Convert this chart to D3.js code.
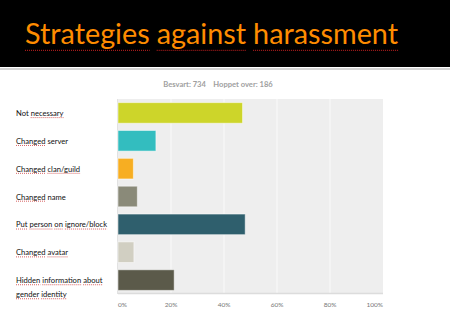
<!DOCTYPE html>
<html>
<head>
<meta charset="utf-8">
<script src="https://cdn.jsdelivr.net/npm/d3@7"></script>
<style>
  body { margin: 0; background: #fff; }
  svg { display: block; }
</style>
</head>
<body>
<script>
// chart data
var categories = [
    "Not necessary",
    "Changed server",
    "Changed clan/guild",
    "Changed name",
    "Put person on ignore/block",
    "Changed avatar",
    "Hidden information about gender identity"
];
var values = [47, 14.3, 5.8, 7.3, 48, 6, 21.2];
var colors = ["#cdd52a", "#33bdbf", "#f7ae22", "#8a8a79", "#2f5f6d", "#d1cfc2", "#5b5a4a"];
// words flagged by the spell checker (red dotted underline)
var flagged = ["necessary", "Changed", "clan/guild", "Put", "person", "on", "ignore/block",
    "avatar", "Hidden", "information", "about", "gender", "identity"];
var ticks = [0, 20, 40, 60, 80, 100];
var titleText = "Strategies against harassment";
var summary = "Besvart: 734    Hoppet over: 186";

var width = 450, height = 333;

var svg = d3.select("body").append("svg")
    .attr("width", width)
    .attr("height", height);

// black header band + grey rule under it
svg.append("rect").attr("width", width).attr("height", 67).attr("fill", "#000");
svg.append("rect").attr("y", 68).attr("width", width).attr("height", 2).attr("fill", "#d4d4d4");

// draws words one by one so the flagged ones can get their dotted underline
function wordRow(g, words, x, y, size, fill, weight, gap) {
    var cx = x;
    words.forEach(function(w) {
        var t = g.append("text")
            .attr("x", cx).attr("y", y)
            .attr("font-size", size)
            .attr("font-weight", weight)
            .attr("fill", fill)
            .text(w);
        var wl = t.node().getComputedTextLength();
        if (flagged.indexOf(w) >= 0) {
            g.append("line")
                .attr("x1", cx).attr("x2", cx + wl)
                .attr("y1", y + size * 0.22).attr("y2", y + size * 0.22)
                .attr("stroke", "#c42020")
                .attr("stroke-width", size > 20 ? 1 : 0.7)
                .attr("stroke-dasharray", "1,1");
        }
        cx += wl + gap;
    });
}

var titleG = svg.append("g").attr("font-family", "Lato, sans-serif");
flagged.push("Strategies", "against", "harassment");
wordRow(titleG, titleText.split(" "), 25, 44, 28.8, "#ff8c00", "normal", 7);

// plot area
var x = d3.scaleLinear().domain([0, 100]).range([118, 383]);
var y = d3.scaleBand().domain(categories).range([99, 294])
    .paddingInner(0.26).paddingOuter(0.13);

svg.append("rect")
    .attr("x", x(0)).attr("y", 99)
    .attr("width", x(100) - x(0)).attr("height", 195)
    .attr("fill", "#eeeeee");

svg.selectAll(".grid")
    .data(ticks.slice(1, -1))
    .enter().append("line")
    .attr("class", "grid")
    .attr("x1", function(d) { return x(d); })
    .attr("x2", function(d) { return x(d); })
    .attr("y1", 99).attr("y2", 294)
    .attr("stroke", "#fafafa").attr("stroke-width", 1);

svg.append("line")
    .attr("x1", x(0)).attr("x2", x(100))
    .attr("y1", 293.5).attr("y2", 293.5)
    .attr("stroke", "#dcdcdc").attr("stroke-width", 1.5);
svg.append("line")
    .attr("x1", x(0) - 0.5).attr("x2", x(0) - 0.5)
    .attr("y1", 99).attr("y2", 294)
    .attr("stroke", "#e2e2e2");

svg.selectAll(".bar")
    .data(values)
    .enter().append("rect")
    .attr("class", "bar")
    .attr("x", x(0))
    .attr("y", function(d, i) { return y(categories[i]); })
    .attr("width", function(d) { return x(d) - x(0); })
    .attr("height", y.bandwidth())
    .attr("fill", function(d, i) { return colors[i]; })
    .attr("stroke", "#ffffff")
    .attr("stroke-opacity", 0.5)
    .attr("stroke-width", 1);

// category labels, wrapped like the survey export
var labG = svg.append("g").attr("font-family", "Lato, sans-serif");
categories.forEach(function(c) {
    var lines = c.length > 30 ? ["Hidden information about", "gender identity"] : [c];
    var cy = y(c) + y.bandwidth() / 2;
    lines.forEach(function(l, k) {
        wordRow(labG, l.split(" "), 16, cy + 3 + k * 14, 7.6, "#111", "normal", 2);
    });
});

// x axis tick labels
svg.selectAll(".tick")
    .data(ticks)
    .enter().append("text")
    .attr("class", "tick")
    .attr("x", function(d) { return x(d); })
    .attr("y", 307)
    .attr("text-anchor", function(d) { return d === 0 ? "start" : d === 100 ? "end" : "middle"; })
    .attr("font-family", "Lato, sans-serif")
    .attr("font-size", 6.5)
    .attr("fill", "#777")
    .text(function(d) { return d + "%"; });

svg.append("text")
    .attr("x", 218).attr("y", 87)
    .attr("text-anchor", "middle")
    .attr("font-family", "Lato, sans-serif")
    .attr("font-size", 7.6)
    .attr("font-weight", "bold")
    .attr("fill", "#a0a0a0")
    .attr("xml:space", "preserve")
    .style("white-space", "pre")
    .text(summary);
</script>
</body>
</html>
